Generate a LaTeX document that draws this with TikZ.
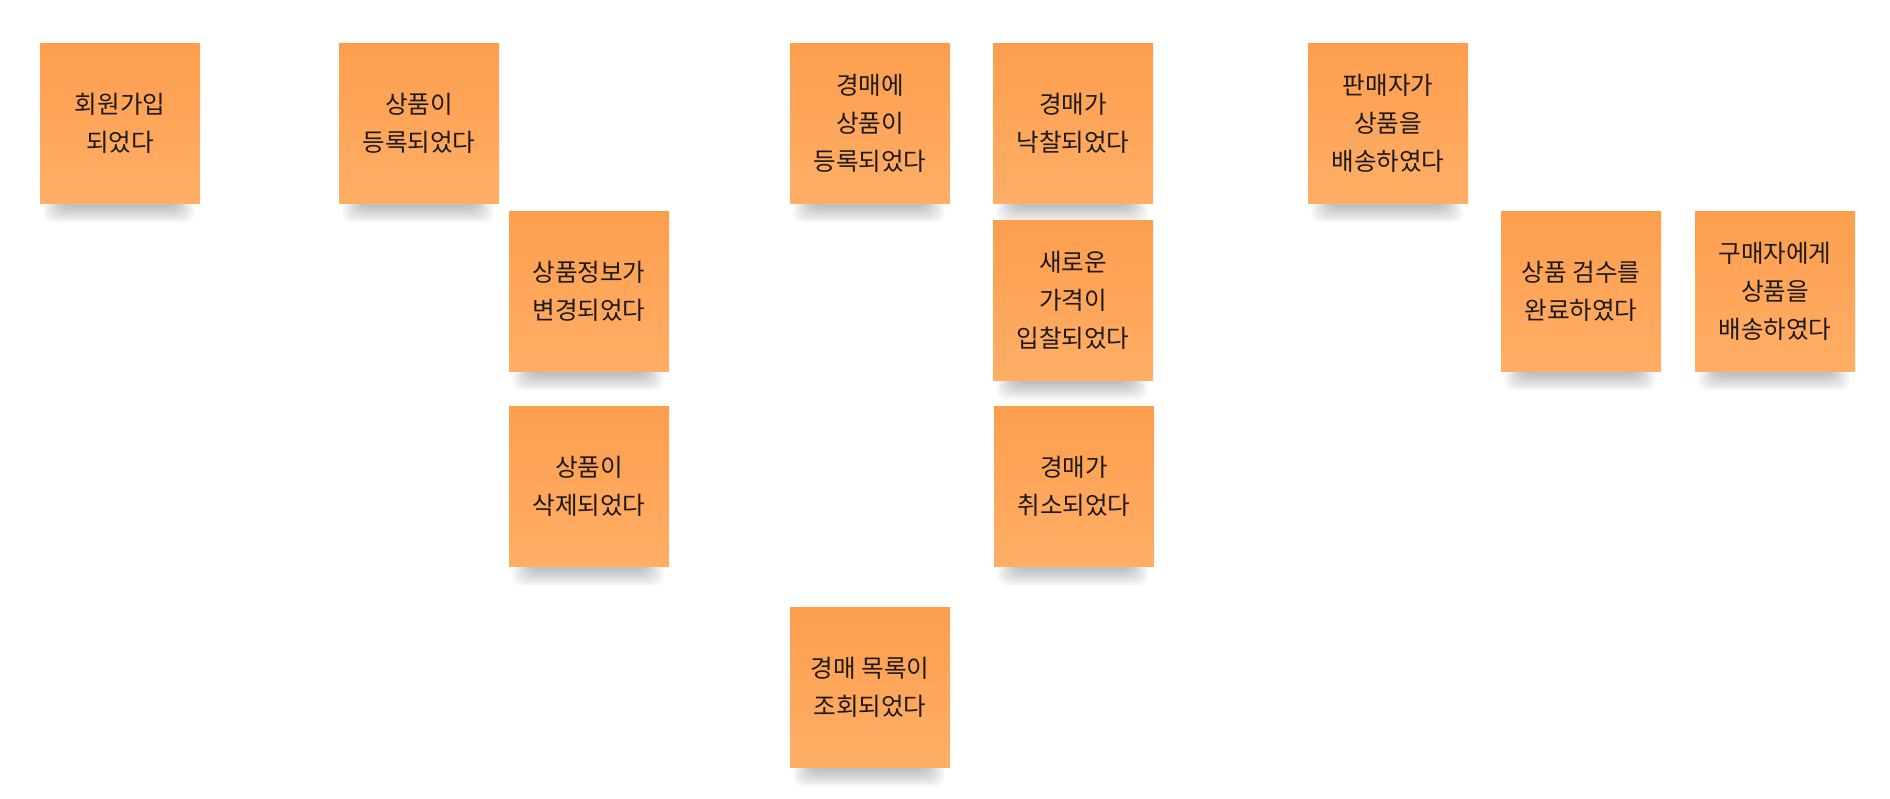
\documentclass[tikz,border=0pt]{standalone}
\usepackage{fontspec}
\newfontfamily\kr{Noto Sans CJK KR}
\usetikzlibrary{backgrounds,calc}
\definecolor{stickytop}{RGB}{253,158,78}
\definecolor{stickybot}{RGB}{255,174,102}
\definecolor{stickytext}{RGB}{30,26,24}
\tikzset{
  sticky/.style={minimum width=80pt, minimum height=80pt, inner sep=0pt,
    align=center, top color=stickytop, bottom color=stickybot,
    text=stickytext, font=\kr\fontsize{12.3}{19}\selectfont},
}
\begin{document}
\begin{tikzpicture}[x=0.5pt, y=-0.5pt]
  \useasboundingbox (0,0) rectangle (1890,798);

  % 회원
  \node[sticky] (join) at (120,123) {회원가입\\되었다};

  % 상품
  \node[sticky] (prodreg) at (419,123) {상품이\\등록되었다};
  \node[sticky] (prodchg) at (589,291) {상품정보가\\변경되었다};
  \node[sticky] (proddel) at (589,486) {상품이\\삭제되었다};

  % 경매
  \node[sticky] (auctreg) at (870,123) {경매에\\상품이\\등록되었다};
  \node[sticky] (auctlist) at (870,687) {경매 목록이\\조회되었다};
  \node[sticky] (auctwin) at (1073,123) {경매가\\낙찰되었다};
  \node[sticky] (auctbid) at (1073,300) {새로운\\가격이\\입찰되었다};
  \node[sticky] (auctcan) at (1074,486) {경매가\\취소되었다};

  % 배송
  \node[sticky] (shipseller) at (1388,123) {판매자가\\상품을\\배송하였다};
  \node[sticky] (inspect) at (1581,291) {상품 검수를\\완료하였다};
  \node[sticky] (shipbuyer) at (1775,291) {구매자에게\\상품을\\배송하였다};

  % 그림자
  \begin{scope}[on background layer]
    \foreach \n in {join,prodreg,prodchg,proddel,auctreg,auctlist,auctwin,auctbid,auctcan,shipseller,inspect,shipbuyer}
      \foreach \k in {0,...,6}
        \fill[black, opacity=0.04, rounded corners=5pt]
          ($(\n.south west)+(22-3*\k,-4)$) rectangle ($(\n.south east)+(-24+3*\k,4+2.5*\k)$);
  \end{scope}
\end{tikzpicture}
\end{document}
